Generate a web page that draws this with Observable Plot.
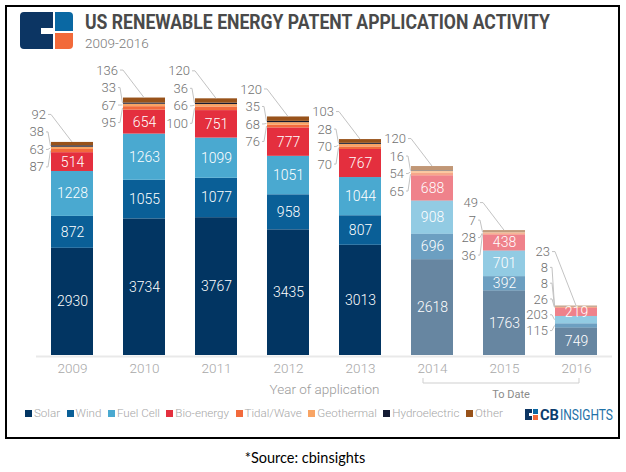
<!DOCTYPE html>
<html><head><meta charset="utf-8">
<script src="https://cdn.jsdelivr.net/npm/d3@7"></script>
<script src="https://cdn.jsdelivr.net/npm/@observablehq/plot@0.6"></script>
<style>
body{margin:0;width:626px;height:472px;position:relative;background:#fff;font-family:Roboto,sans-serif;overflow:hidden}
#box{position:absolute;left:5px;top:5px;width:611px;height:430px;border:2px solid #000;}
#header{position:absolute;left:0;top:0}
#chart{position:absolute;left:0;top:55px}
#legend{position:absolute;left:25px;top:406px;display:flex;align-items:center;font-size:11.6px;color:#a6a6a6;font-weight:300;white-space:nowrap}
#legend .it{display:flex;align-items:center;margin-right:6.5px}
#legend .sw{width:7px;height:7px;margin-right:2px}
#cbl{position:absolute;left:524px;top:407px}
#source{position:absolute;left:0;width:610px;top:449px;text-align:center;font-family:Lato,sans-serif;font-size:14.5px;color:#000}
</style></head><body>
<div id="box"></div>
<svg id="header" width="626" height="55">
  <path d="M24,12 H53 V28 H41 V34 H53 V49 H24 Q20,49 20,45 V16 Q20,12 24,12 Z" fill="#0c3563"/>
  <path d="M55,12 H69 Q73,12 73,16 V31 H55 Z" fill="#0a68a3"/>
  <path d="M55,33 H73 V45 Q73,49 69,49 H55 Z" fill="#f26a3a"/>
  <text x="85" y="29" font-family="Roboto" font-weight="bold" font-size="20" fill="#4a4a4a" textLength="465" lengthAdjust="spacingAndGlyphs">US RENEWABLE ENERGY PATENT APPLICATION ACTIVITY</text>
  <text x="85" y="48" font-family="Roboto" font-weight="300" font-size="13.5" fill="#7a7a7a">2009-2016</text>
</svg>
<div id="chart"></div>
<div id="legend"></div>
<svg id="cbl" width="100" height="16">
  <path d="M1,2 H8 V6 H5 V9 H8 V13 H1 Z" fill="#0c3563"/>
  <rect x="9" y="2" width="5" height="5" fill="#0a68a3"/>
  <rect x="9" y="8" width="5" height="5" fill="#f26a3a"/>
  <text x="16" y="13" font-family="Roboto" font-weight="bold" font-size="14" fill="#0c3d6e" textLength="19" lengthAdjust="spacingAndGlyphs">CB</text>
  <text x="36" y="13" font-family="Roboto" font-size="14" fill="#1f72a8" textLength="53" lengthAdjust="spacingAndGlyphs">INSIGHTS</text>
</svg>
<div id="source">*Source: cbinsights</div>
<script>
const years = ["2009","2010","2011","2012","2013","2014","2015","2016"];
const toDateYears = ["2014","2015","2016"];
const categories = ["Solar","Wind","Fuel Cell","Bio-energy","Tidal/Wave","Geothermal","Hydroelectric","Other"];
const colors = ["#023562","#0a5f97","#4aa9d0","#e42f3e","#f26a3c","#f8a464","#141b33","#98521a"];
const solar = [2930,3734,3767,3435,3013,2618,1763,749];
const wind = [872,1055,1077,958,807,696,392,115];
const fuelCell = [1228,1263,1099,1051,1044,908,701,203];
const bioEnergy = [514,654,751,777,767,688,438,219];
const tidalWave = [87,95,100,76,70,65,36,26];
const geothermal = [63,67,66,68,70,54,28,8];
const hydroelectric = [38,33,36,35,28,16,7,8];
const other = [92,136,120,120,103,120,49,23];
const seriesList = [solar, wind, fuelCell, bioEnergy, tidalWave, geothermal, hydroelectric, other];
// categories labelled outside the bar (top to bottom)
const outsideDefault = ["Other","Hydroelectric","Geothermal","Tidal/Wave"];
const outside2016 = ["Other","Hydroelectric","Geothermal","Tidal/Wave","Fuel Cell","Wind"];

const data = [];
years.forEach((yr, j) => categories.forEach((c, i) => data.push({year: yr, cat: c, value: seriesList[i][j]})));
const outsideFor = yr => yr === "2016" ? outside2016 : outsideDefault;
const faded = yr => toDateYears.includes(yr);

function outsideLabels(index, scales) {
  const x = scales.x, y = scales.y;
  const bw = x.bandwidth();
  const g = d3.create("svg:g").attr("font-family", "Roboto").attr("font-size", 13);
  years.forEach((yr, j) => {
    const vals = seriesList.map(s => s[j]);
    let acc = 0;
    const lo = {}, hi = {};
    categories.forEach((c, i) => { lo[c] = acc; acc += vals[i]; hi[c] = acc; });
    const T = y(acc);
    const left = x(yr), center = left + bw / 2;
    const outs = outsideFor(yr);
    const n = outs.length;
    const sp = n > 4 ? 15.8 : 17.5;
    outs.forEach((c, k) => {
      const ly = T + 25 - (n - 1 - k) * sp;
      const isTop = c === "Other";
      const tx = isTop ? left - 5 : left - 7;
      const segMid = y((lo[c] + hi[c]) / 2);
      g.append("text").attr("x", tx).attr("y", ly).attr("dy", "0.35em")
        .attr("text-anchor", "end").attr("fill", "#707070").attr("font-weight", 300)
        .text(vals[categories.indexOf(c)]);
      const path = isTop
        ? `M${tx + 2},${ly}H${tx + 5}L${center},${T}`
        : `M${tx + 2},${ly}H${tx + 4}L${left - 0.5},${segMid}`;
      g.append("path").attr("d", path).attr("fill", "none").attr("stroke", "#c3c3c3").attr("stroke-width", 1);
    });
  });
  // "To Date" bracket
  const c14 = x(toDateYears[0]) + bw / 2, c16 = x(toDateYears[toDateYears.length - 1]) + bw / 2, c15 = x(toDateYears[1]) + bw / 2;
  const by = y(0) + 28;
  g.append("path").attr("d", `M${c14 - 9},${by - 5}V${by}H${c16 + 3}V${by - 5}`)
    .attr("fill", "none").attr("stroke", "#cfcfcf");
  g.append("text").attr("x", c15 + 7).attr("y", by + 11).attr("dy", "0.35em").attr("text-anchor", "middle")
    .attr("font-size", 11).attr("fill", "#8a8a8a").text("To Date");
  return g.node();
}

const plot = Plot.plot({
  width: 626,
  height: 345,
  marginLeft: 36,
  marginRight: 14,
  marginTop: 0,
  marginBottom: 45,
  style: {fontFamily: "Roboto", background: "transparent"},
  x: {axis: null, domain: years, paddingInner: 0.41, paddingOuter: 0.197},
  y: {axis: null, domain: [0, 8200]},
  color: {domain: categories, range: colors},
  marks: [
    Plot.ruleY([0], {stroke: "#e9e9e9", strokeWidth: 2, dy: 1}),
    Plot.barY(data, {x: "year", y: "value", fill: "cat", fillOpacity: d => faded(d.year) ? 0.6 : 1, order: categories}),
    Plot.text(data, Plot.stackY({
      x: "year", y: "value", z: "cat", order: categories,
      text: d => (outsideFor(d.year).includes(d.cat) ? "" : String(d.value)),
      fill: "white", fontSize: 14, fontWeight: 300
    })),
    Plot.text(years, {x: d => d, text: d => d, frameAnchor: "bottom", dy: 17, fontSize: 13.5, fill: "#a8a8a8", fontWeight: 300}),
    Plot.text(["Year of application"], {frameAnchor: "bottom", dy: 38, fontSize: 13.5, fill: "#9a9a9a", fontWeight: 300}),
    outsideLabels
  ]
});
document.getElementById("chart").appendChild(plot);

const legend = document.getElementById("legend");
categories.forEach((c, i) => {
  const it = document.createElement("div"); it.className = "it";
  const sw = document.createElement("div"); sw.className = "sw"; sw.style.background = colors[i];
  const t = document.createElement("span"); t.textContent = c;
  it.appendChild(sw); it.appendChild(t); legend.appendChild(it);
});
</script>
</body></html>
